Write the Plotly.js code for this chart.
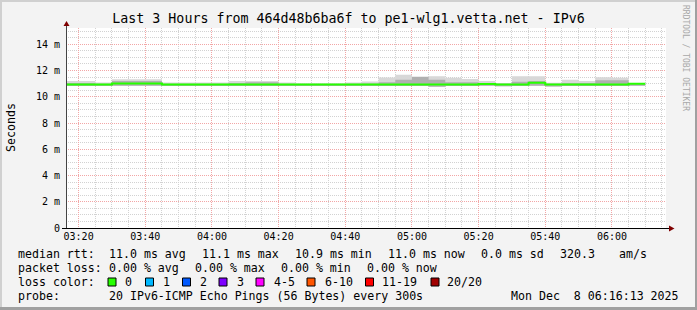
<!DOCTYPE html>
<html><head><meta charset="utf-8">
<script src="https://cdn.plot.ly/plotly-3.0.1.min.js"></script>
<style>html,body{margin:0;padding:0;background:#f3f3f3;}#chart{width:697px;height:310px;}</style>
</head><body><div id="chart"></div>
<script>
// ---------- data ----------
const day = '2025-12-08 ';
const binStarts = ['03:15','03:20','03:25','03:30','03:35','03:40','03:45','03:50','03:55','04:00',
  '04:05','04:10','04:15','04:20','04:25','04:30','04:35','04:40','04:45','04:50',
  '04:55','05:00','05:05','05:10','05:15','05:20','05:25','05:30','05:35','05:40',
  '05:45','05:50','05:55','06:00','06:05'];
const binEnd = '06:10';
// values in ms
const medianRtt = [10.93,10.93,10.93,11.01,11.01,11.01,10.93,10.93,10.93,10.93,
  10.93,10.93,10.93,10.93,10.93,10.93,10.93,10.93,10.93,10.93,
  10.93,10.93,10.93,10.93,10.93,10.98,10.93,10.93,11.06,10.93,
  10.93,10.93,10.93,10.93,11.00];
const smokeMax = [11.21,11.21,11.08,11.34,11.34,11.34,11.08,11.08,11.08,11.08,
  11.21,11.21,11.21,11.08,11.03,11.03,11.03,11.08,11.16,11.47,
  11.67,11.54,11.56,11.45,11.36,11.20,11.05,11.57,11.57,11.06,
  11.30,11.20,11.48,11.45,11.05];
const smokeUpper = [11.05,11.05,11.00,11.20,11.20,11.20,11.00,11.00,11.00,11.00,
  11.05,11.10,11.10,11.00,10.98,10.98,10.98,11.00,11.02,11.10,
  11.30,11.50,11.30,11.10,11.10,11.05,11.00,11.15,11.20,11.00,
  11.05,11.05,11.25,11.25,11.02];
const smokeMin = [10.82,10.82,10.82,10.84,10.84,10.84,10.82,10.82,10.82,10.82,
  10.82,10.82,10.82,10.82,10.82,10.82,10.82,10.82,10.82,10.82,
  10.82,10.82,10.76,10.82,10.82,10.84,10.80,10.82,10.84,10.78,
  10.82,10.82,10.82,10.82,10.84];
const yTickVals = [0,2,4,6,8,10,12,14];
const yTickText = ['0','2 m','4 m','6 m','8 m','10 m','12 m','14 m'];
const xTickLabels = ['03:20','03:40','04:00','04:20','04:40','05:00','05:20','05:40','06:00'];
const timeRange = ['03:16:13','06:16:13'];
const titleText = 'Last 3 Hours from 464d48b6ba6f to pe1-wlg1.vetta.net - IPv6';
const rttRow = ['median rtt:','11.0 ms avg','11.1 ms max','10.9 ms min','11.0 ms now','0.0 ms sd','320.3','am/s'];
const lossRow = ['packet loss:','0.00 % avg','0.00 % max','0.00 % min','0.00 % now'];
const lossLabels = ['0','1','2','3','4-5','6-10','11-19','20/20'];
const lossColors = ['#26ff00','#00b8ff','#0059ff','#7e00ff','#ff00ff','#ff5500','#ff0000','#a00000'];
const probeRow = ['probe:','20 IPv6-ICMP Echo Pings (56 Bytes) every 300s'];
const stampText = 'Mon Dec  8 06:16:13 2025';
const creditText = 'RRDTOOL / TOBI OETIKER';

// ---------- layout helpers ----------
const W = 697, H = 310, ML = 66, MR = 31, MT = 28, MB = 82;
const PW = W - ML - MR, PH = H - MT - MB;
const P = px => (px - ML) / PW;
const Q = py => (H - MB - py) / PH;
const mono = 'DejaVu Sans Mono';

const xs = binStarts.map(t => day + t).concat([day + binEnd]);
const ext = a => a.concat([a[a.length - 1]]);

const traces = [
  {x: xs, y: ext(smokeMin), mode: 'lines', line: {shape: 'hv', width: 0, color: 'rgba(0,0,0,0)'}, hoverinfo: 'skip'},
  {x: xs, y: ext(smokeMax), mode: 'lines', line: {shape: 'hv', width: 0, color: 'rgba(0,0,0,0)'}, fill: 'tonexty', fillcolor: '#d8d8d8', hoverinfo: 'skip'},
  {x: xs, y: ext(smokeMin), mode: 'lines', line: {shape: 'hv', width: 0, color: 'rgba(0,0,0,0)'}, hoverinfo: 'skip'},
  {x: xs, y: ext(smokeUpper), mode: 'lines', line: {shape: 'hv', width: 0, color: 'rgba(0,0,0,0)'}, fill: 'tonexty', fillcolor: '#b0b0b0', hoverinfo: 'skip'},
  {x: xs, y: ext(medianRtt), mode: 'lines', line: {shape: 'hv', width: 2, color: '#26ff00'}, hoverinfo: 'skip'}
];

const ann = [];
function txt(text, px, py, opt) {
  ann.push(Object.assign({text: text, x: P(px), y: Q(py), xref: 'paper', yref: 'paper',
    xanchor: 'left', yanchor: 'middle', showarrow: false,
    font: {family: mono, size: 11.6, color: '#000'}}, opt || {}));
}
const rttX = [16,107,200,293,386,479,558,617];
rttRow.forEach((t, i) => txt(t, rttX[i], 254));
const lossX = [16,107,193,279,365];
lossRow.forEach((t, i) => txt(t, lossX[i], 268));
txt('loss color:', 16, 282);
const boxX = [108,145.5,182.5,219,256,307,365.5,431];
const labX = [123,161,197.5,235,271.5,322.5,380,445.5];
lossLabels.forEach((t, i) => txt(t, labX[i], 282));
txt(probeRow[0], 16, 296);
txt(probeRow[1], 107, 296);
txt(stampText, 681, 296, {xanchor: 'right'});
txt('Seconds', 11, 128, {xanchor: 'center', textangle: -90, font: {family: mono, size: 11.6, color: '#000'}});
txt(creditText, 686, 58, {xanchor: 'center', textangle: 90, font: {family: mono, size: 8, color: '#a8a8a8'}});

const shapes = [];
lossColors.forEach((c, i) => shapes.push({type: 'rect', xref: 'paper', yref: 'paper',
  x0: P(boxX[i]), x1: P(boxX[i] + 8), y0: Q(286), y1: Q(278), fillcolor: c, line: {color: '#000', width: 1}}));
// axes + arrows
shapes.push({type: 'line', xref: 'paper', yref: 'paper', x0: P(ML + 0.5), x1: P(ML + 0.5), y0: Q(H - MB), y1: Q(25), line: {color: '#444', width: 1}});
shapes.push({type: 'line', xref: 'paper', yref: 'paper', x0: P(62), x1: P(670), y0: Q(H - MB + 0.5), y1: Q(H - MB + 0.5), line: {color: '#000', width: 1}});
shapes.push({type: 'path', xref: 'paper', yref: 'paper', path: `M ${P(63.5)} ${Q(26)} L ${P(69.5)} ${Q(26)} L ${P(66.5)} ${Q(21)} Z`, fillcolor: '#7f0000', line: {width: 0}});
shapes.push({type: 'path', xref: 'paper', yref: 'paper', path: `M ${P(669)} ${Q(225.5)} L ${P(669)} ${Q(231.5)} L ${P(674.5)} ${Q(228.5)} Z`, fillcolor: '#7f0000', line: {width: 0}});
// frame
shapes.push({type: 'rect', xref: 'paper', yref: 'paper', x0: P(0), x1: P(W), y0: Q(0), y1: Q(2), fillcolor: '#d0d0d0', line: {width: 0}});
shapes.push({type: 'rect', xref: 'paper', yref: 'paper', x0: P(0), x1: P(2), y0: Q(0), y1: Q(H), fillcolor: '#d0d0d0', line: {width: 0}});
shapes.push({type: 'rect', xref: 'paper', yref: 'paper', x0: P(0), x1: P(W), y0: Q(H - 3), y1: Q(H), fillcolor: '#a0a0a0', line: {width: 0}});
shapes.push({type: 'rect', xref: 'paper', yref: 'paper', x0: P(W - 2), x1: P(W), y0: Q(0), y1: Q(H), fillcolor: '#a0a0a0', line: {width: 0}});

const layout = {
  width: W, height: H, margin: {l: ML, r: MR, t: MT, b: MB},
  paper_bgcolor: '#f3f3f3', plot_bgcolor: '#ffffff', showlegend: false,
  title: {text: titleText, font: {family: mono, size: 13.3, color: '#000'}, x: 0.5, xref: 'container', xanchor: 'center', y: 1 - 18 / H, yref: 'container', yanchor: 'middle'},
  xaxis: {type: 'date', range: [day + timeRange[0], day + timeRange[1]],
    tickvals: xTickLabels.map(t => day + t), ticktext: xTickLabels,
    tickfont: {family: mono, size: 10, color: '#000'}, ticks: '', showline: false, zeroline: false,
    ticklabelstandoff: 1,
    showgrid: true, gridcolor: '#f2a6a6', griddash: '1px,1px', gridwidth: 1,
    minor: {dtick: 300000, tick0: day + '03:20', showgrid: true, gridcolor: '#d2d2d2', griddash: '1px,1px', ticks: ''},
    fixedrange: true},
  yaxis: {range: [0, 15.24], tickvals: yTickVals, ticktext: yTickText,
    tickfont: {family: mono, size: 10, color: '#000'}, ticks: '', showline: false, zeroline: false,
    ticklabelstandoff: 5,
    showgrid: true, gridcolor: '#f2a6a6', griddash: '1px,1px', gridwidth: 1,
    minor: {dtick: 0.5, showgrid: true, gridcolor: '#d2d2d2', griddash: '1px,1px', ticks: ''},
    fixedrange: true},
  annotations: ann, shapes: shapes
};
Plotly.newPlot('chart', traces, layout, {displayModeBar: false, staticPlot: true});
</script></body></html>
